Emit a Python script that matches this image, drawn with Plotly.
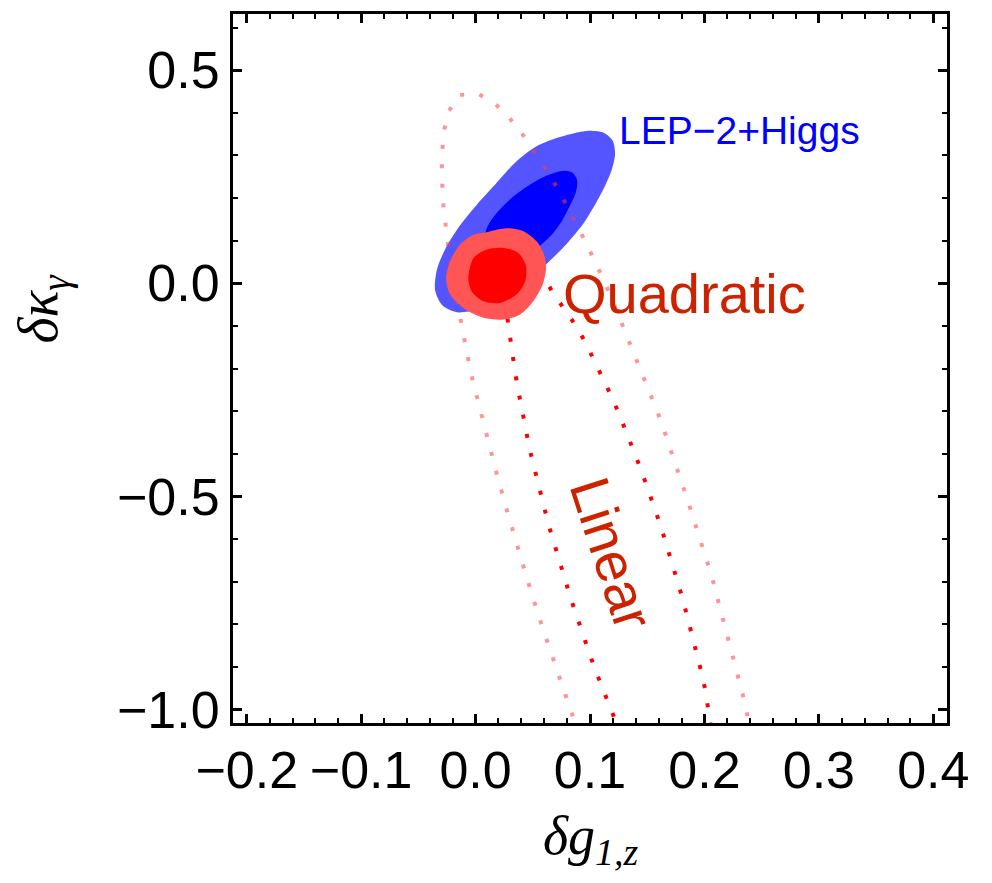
import plotly.graph_objects as go

# ---- axis ticks ----
x_tickvals = [-0.2, -0.1, 0.0, 0.1, 0.2, 0.3, 0.4]
x_ticktext = ["\u22120.2", "\u22120.1", "0.0", "0.1", "0.2", "0.3", "0.4"]
y_tickvals = [-1.0, -0.5, 0.0, 0.5]
y_ticktext = ["\u22121.0", "\u22120.5", "0.0", "0.5"]
x_range = [-0.212, 0.412]
y_range = [-1.032, 0.632]

# ---- LEP-2 + Higgs regions (traced boundaries) ----
lep_outer_x = [0.1001, 0.1123, 0.1198, 0.1219, 0.1193, 0.1132, 0.1045, 0.0931, 0.0791, 0.0634,
               0.0450, 0.0240, 0.0022, -0.0162, -0.0293, -0.0354, -0.0337, -0.0258, -0.0135,
               0.0013, 0.0179, 0.0345, 0.0529, 0.0721, 0.0870]
lep_outer_y = [0.358, 0.353, 0.335, 0.304, 0.269, 0.229, 0.185, 0.136, 0.091, 0.049,
               0.007, -0.033, -0.061, -0.068, -0.051, -0.016, 0.033, 0.084, 0.136,
               0.185, 0.234, 0.283, 0.321, 0.342, 0.353]

lep_inner_x = [0.0765, 0.0844, 0.0887, 0.0878, 0.0826, 0.0756, 0.0669, 0.0546, 0.0424, 0.0267,
               0.0127, 0.0066, 0.0101, 0.0188, 0.0310, 0.0450, 0.0599]
lep_inner_y = [0.264, 0.260, 0.243, 0.215, 0.183, 0.147, 0.115, 0.084, 0.059, 0.047,
               0.056, 0.089, 0.131, 0.166, 0.199, 0.227, 0.250]

# ---- Quadratic fit regions ----
quad_outer_x = [0.0098, 0.0273, 0.0418, 0.0535, 0.0599, 0.0616, 0.0587, 0.0505, 0.0389, 0.0243,
                0.0068, -0.0107, -0.0223, -0.0258, -0.0223, -0.0135, -0.0019]
quad_outer_y = [0.120, 0.129, 0.122, 0.098, 0.067, 0.036, -0.003, -0.042, -0.073, -0.085,
                -0.081, -0.058, -0.026, 0.012, 0.051, 0.091, 0.114]

quad_inner_x = [-0.0019, 0.0098, 0.0243, 0.0374, 0.0441, 0.0433, 0.0360, 0.0214, 0.0068, -0.0033, -0.0063]
quad_inner_y = [0.059, 0.079, 0.083, 0.071, 0.040, 0.005, -0.026, -0.046, -0.042, -0.019, 0.012]

# ---- Linear fit contours (dotted) ----
lin_outer_x = [0.0905, 0.0788, 0.0677, 0.0570, 0.0468, 0.0369, 0.0275, 0.0185, 0.0098, 0.0016,
               -0.0024, -0.0061, -0.0096, -0.0129, -0.0162, -0.0192, -0.0219, -0.0238, -0.0258,
               -0.0280, -0.0290, -0.0295, -0.0290, -0.0275, -0.0234, -0.0142, 0.0019, 0.0164,
               0.0287, 0.0395, 0.0494, 0.0587, 0.0675, 0.0759, 0.0841, 0.0913, 0.0992, 0.1066,
               0.1136, 0.1202, 0.1266, 0.1336, 0.1400, 0.1462, 0.1519, 0.1584, 0.1642, 0.1698,
               0.1753, 0.1808, 0.1860, 0.1910, 0.1960, 0.2012, 0.2065, 0.2108, 0.2152, 0.2196,
               0.2240, 0.2283, 0.2323, 0.2365, 0.2399]
lin_outer_y = [-1.060, -0.968, -0.882, -0.796, -0.709, -0.623, -0.534, -0.447, -0.358, -0.270,
               -0.229, -0.183, -0.136, -0.091, -0.044, 0.000, 0.044, 0.088, 0.133,
               0.178, 0.224, 0.270, 0.315, 0.360, 0.404, 0.442, 0.445, 0.423,
               0.391, 0.355, 0.318, 0.280, 0.241, 0.202, 0.161, 0.122, 0.080, 0.039,
               -0.002, -0.044, -0.087, -0.129, -0.171, -0.213, -0.255, -0.298, -0.341, -0.384,
               -0.428, -0.470, -0.514, -0.558, -0.601, -0.644, -0.688, -0.733, -0.777, -0.821,
               -0.864, -0.908, -0.952, -0.996, -1.060]

lin_inner_x = [0.1272, 0.1176, 0.1112, 0.1051, 0.0995, 0.0937, 0.0885, 0.0832, 0.0780, 0.0730,
               0.0684, 0.0636, 0.0593, 0.0549, 0.0511, 0.0470, 0.0439, 0.0404, 0.0374, 0.0345,
               0.0319, 0.0297, 0.0275, 0.0267, 0.0275, 0.0310, 0.0372, 0.0450, 0.0529, 0.0581,
               0.0590, 0.0675, 0.0776, 0.0870, 0.0955, 0.1030, 0.1106, 0.1176, 0.1246, 0.1309,
               0.1371, 0.1432, 0.1490, 0.1549, 0.1601, 0.1654, 0.1703, 0.1753, 0.1799, 0.1843,
               0.1886, 0.1927, 0.1968, 0.2006, 0.2035, 0.2067]
lin_inner_y = [-1.060, -0.997, -0.954, -0.911, -0.869, -0.826, -0.782, -0.740, -0.696, -0.652,
               -0.608, -0.565, -0.520, -0.477, -0.432, -0.387, -0.342, -0.298, -0.253, -0.208,
               -0.164, -0.119, -0.075, -0.030, 0.016, 0.056, 0.082, 0.091, 0.077, 0.047,
               0.019, -0.022, -0.059, -0.097, -0.136, -0.176, -0.218, -0.259, -0.301, -0.343,
               -0.385, -0.428, -0.471, -0.514, -0.557, -0.601, -0.644, -0.687, -0.731, -0.775,
               -0.819, -0.864, -0.907, -0.952, -0.996, -1.060]

fig = go.Figure()


def region(xs, ys, color):
    fig.add_trace(go.Scatter(x=list(xs) + [xs[0]], y=list(ys) + [ys[0]],
                             mode="lines", fill="toself", fillcolor=color,
                             line=dict(width=0, color=color, shape="spline", smoothing=0.8),
                             hoverinfo="skip", showlegend=False))


region(lep_outer_x, lep_outer_y, "rgb(85,85,255)")
region(lep_inner_x, lep_inner_y, "rgb(0,0,255)")

fig.add_trace(go.Scatter(x=lin_outer_x, y=lin_outer_y, mode="lines",
                         line=dict(color="rgba(255,60,60,0.55)", width=4, dash="4px,15.5px"),
                         hoverinfo="skip", showlegend=False))
fig.add_trace(go.Scatter(x=lin_inner_x, y=lin_inner_y, mode="lines",
                         line=dict(color="rgb(255,0,0)", width=4, dash="4px,15.5px"),
                         hoverinfo="skip", showlegend=False))

region(quad_outer_x, quad_outer_y, "rgb(255,85,85)")
region(quad_inner_x, quad_inner_y, "rgb(255,0,0)")

sans = "Liberation Sans, Arial, sans-serif"
serif = "Liberation Serif, Times New Roman, serif"
label_red = "rgb(204,34,0)"

fig.add_annotation(x=0.1237, y=0.359, xref="x", yref="y", text="LEP\u22122+Higgs",
                   showarrow=False, xanchor="left", yanchor="middle",
                   font=dict(family=sans, size=39, color="rgb(0,0,255)"))
fig.add_annotation(x=0.0748, y=-0.023, xref="x", yref="y", text="Quadratic",
                   showarrow=False, xanchor="left", yanchor="middle",
                   font=dict(family=sans, size=56, color=label_red))
fig.add_annotation(x=0.119, y=-0.634, xref="x", yref="y", text="Linear",
                   showarrow=False, xanchor="center", yanchor="middle", textangle=72,
                   font=dict(family=sans, size=56, color=label_red))

fig.add_annotation(x=0.5, y=-0.164, xref="paper", yref="paper",
                   text="<i>\u03b4g<sub>1,z</sub></i>", showarrow=False,
                   xanchor="center", yanchor="middle",
                   font=dict(family=serif, size=54, color="black"))
fig.add_annotation(x=-0.267, y=0.585, xref="paper", yref="paper",
                   text="<i>\u03b4\u03ba<sub>\u03b3</sub></i>", showarrow=False,
                   xanchor="center", yanchor="middle", textangle=-90,
                   font=dict(family=serif, size=56, color="black"))

axis_common = dict(showline=True, linewidth=3, linecolor="black", mirror="ticks",
                   ticks="inside", ticklen=9, tickwidth=2.5, tickcolor="black",
                   showgrid=False, zeroline=False, tickmode="array",
                   tickfont=dict(family=sans, size=52, color="black"))

fig.update_xaxes(range=x_range, tickvals=x_tickvals, ticktext=x_ticktext,
                 minor=dict(tickmode="linear", tick0=0, dtick=0.02, ticks="inside",
                            ticklen=5, tickwidth=2, tickcolor="black", showgrid=False),
                 **axis_common)
fig.update_yaxes(range=y_range, tickvals=y_tickvals, ticktext=y_ticktext,
                 minor=dict(tickmode="linear", tick0=0, dtick=0.1, ticks="inside",
                            ticklen=5, tickwidth=2, tickcolor="black", showgrid=False),
                 **axis_common)

# page body adds an 8px margin, so the figure is 16px smaller than the window
fig.update_layout(width=976, height=867, plot_bgcolor="white", paper_bgcolor="white",
                  margin=dict(l=225, r=37, t=3, b=152), showlegend=False)

fig.write_html("out.html")
